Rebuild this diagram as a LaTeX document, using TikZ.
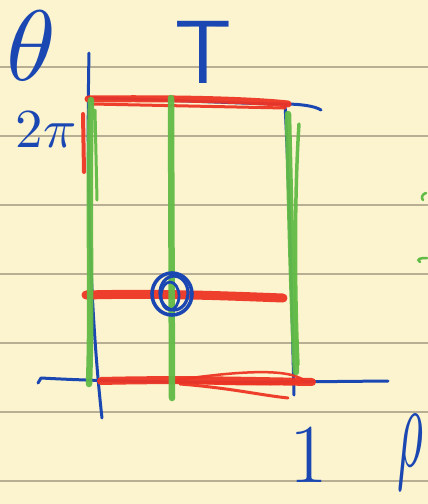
\documentclass[tikz,border=0pt]{standalone}
\usepackage{xcolor}
\usepackage{tikz}
\definecolor{NPaper}{HTML}{FBF4CE}
\definecolor{NRule}{HTML}{B8AE94}
\definecolor{NBlue}{HTML}{1B47B3}
\definecolor{NRed}{HTML}{EE3524}
\definecolor{NGreen}{HTML}{62BB46}
\tikzset{
  blueink/.style={NBlue,line width=3pt,line cap=round,line join=round},
  redink/.style={NRed,line width=7pt,line cap=round,opacity=.95},
  greenink/.style={NGreen,line width=6.5pt,line cap=round,opacity=.95},
  ruled/.style={NRule,line width=1.4pt},
  handtext/.style={NBlue,inner sep=0pt}
}

\begin{document}
\begin{tikzpicture}[x=1pt,y=-1pt]
\path[use as bounding box] (0,0) rectangle (428,504);
\fill[NPaper] (0,0) rectangle (428,504);
% paper rules
\foreach \yy in {67,136,205,274,343,412,481}
  \draw[ruled] (0,\yy) -- (428,\yy);
% blue frame
\draw[blueink] (89,53) .. controls (86,200) and (92,330) .. (102,418);
\draw[blueink] (38,383) -- (41,378) .. controls (150,384) and (280,382) .. (388,381);
\draw[blueink] (88,98) .. controls (180,100) and (250,104) .. (285,104) .. controls (300,104) and (315,106) .. (321,110);
\draw[blueink] (285,104) .. controls (290,200) and (292,320) .. (294,395);
% red rows
\draw[redink] (88,99) .. controls (180,98) and (250,100) .. (288,104);
\draw[redink,line width=3pt] (92,104) -- (285,108);
\draw[redink,line width=4pt] (83,114) -- (84,172);
\draw[redink,line width=9pt] (86,295) .. controls (160,293) and (230,296) .. (283,298);
\draw[redink,line width=8pt] (101,381) .. controls (180,379) and (250,381) .. (312,382);
\draw[redink,line width=2.5pt] (170,381) .. controls (230,372) and (280,368) .. (300,378) .. controls (320,385) and (250,385) .. (200,383);
\draw[redink,line width=3pt] (180,384) .. controls (230,388) and (260,395) .. (288,398);
% green columns
\draw[greenink] (91,100) .. controls (88,200) and (92,300) .. (89,384);
\draw[greenink,line width=3pt] (95,110) -- (97,200);
\draw[greenink] (171,98) -- (172,398);
\draw[greenink] (288,114) .. controls (290,200) and (292,300) .. (296,372);
\draw[greenink,line width=3.5pt] (299,124) .. controls (294,200) and (295,300) .. (298,365);
% fragments at the right edge
\draw[NGreen,line width=2.5pt,line cap=round] (426,193) .. controls (422,194) and (421,198) .. (423,200);
\draw[NGreen,line width=2.5pt,line cap=round] (427,258) .. controls (420,258) and (416,259) .. (420,262);
% blue scribble circle
\draw[blueink,line width=3.6pt] (172,294) circle[x radius=20,y radius=21];
\draw[blueink,line width=3.2pt] (174,293) circle[x radius=14,y radius=17];
\draw[blueink,line width=2.8pt] (170,296) ellipse[x radius=9,y radius=14];
% labels
\node[handtext,scale=10] (theta) at (31,46) {$\theta$};
\node[handtext,font=\fontsize{90}{90}\selectfont\sffamily] (tt) at (203,52) {T};
\node[handtext,scale=5.5] (twopi) at (46,130) {$2\pi$};
\node[handtext,font=\fontsize{84}{84}\selectfont] (one) at (309,455) {1};
\node[handtext,xscale=5,yscale=12] (rho) at (410,452) {$\rho$};
\end{tikzpicture}
\end{document}
